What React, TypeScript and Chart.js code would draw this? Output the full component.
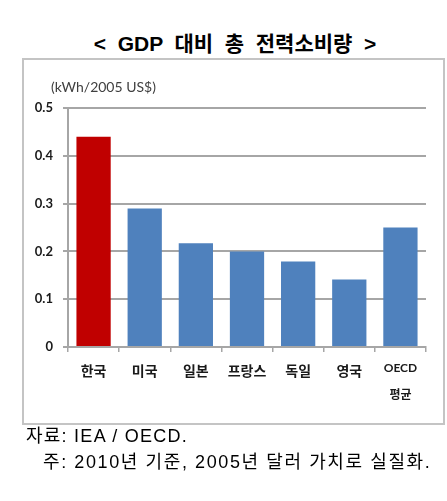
import React, { useEffect, useRef } from "react";
import { Chart, registerables } from "chart.js";

Chart.register(...registerables);

const categories: (string | string[])[] = ["한국", "미국", "일본", "프랑스", "독일", "영국", ["OECD", "평균"]];
const values: number[] = [0.44, 0.29, 0.217, 0.2, 0.179, 0.141, 0.25];
const barColors: string[] = ["#C00000", "#4F81BD", "#4F81BD", "#4F81BD", "#4F81BD", "#4F81BD", "#4F81BD"];
const yTicks: number[] = [0, 0.1, 0.2, 0.3, 0.4, 0.5];

const title = "<  GDP  대비  총  전력소비량  >";
const unitLabel = "(kWh/2005 US$)";
const source = "자료: IEA / OECD.";
const note = "주: 2010년 기준, 2005년 달러 가치로 실질화.";

const mixedFont = "'Liberation Sans', Arial, 'Noto Sans CJK KR', sans-serif";

export default function App() {
  const ref = useRef<HTMLCanvasElement | null>(null);

  useEffect(() => {
    if (!ref.current) return;
    const chart = new Chart(ref.current, {
      type: "bar",
      data: {
        labels: categories,
        datasets: [
          {
            data: values,
            backgroundColor: barColors,
            borderWidth: 0,
            barPercentage: 0.67,
            categoryPercentage: 1,
          },
        ],
      },
      options: {
        animation: false,
        responsive: false,
        maintainAspectRatio: false,
        layout: { padding: { left: 0, right: 21, top: 108, bottom: 0 } },
        plugins: { legend: { display: false }, tooltip: { enabled: false }, title: { display: false } },
        scales: {
          x: {
            afterFit: (s: any) => {
              s.height = 154;
            },
            grid: {
              offset: true,
              drawOnChartArea: false,
              drawTicks: true,
              tickLength: 5,
              color: "#a6a6a6",
              lineWidth: 1.5,
            },
            border: { display: true, color: "#a6a6a6", width: 2 },
            ticks: {
              padding: 3,
              color: "#1a1a1a",
              maxRotation: 0,
              autoSkip: false,
              font: (ctx: any) =>
                ctx.index === 6
                  ? { family: "Lato, 'Noto Sans CJK KR', sans-serif", size: 12, weight: "bold", lineHeight: "27px" }
                  : { family: "'Noto Sans CJK KR', sans-serif", size: 14, weight: "bold", lineHeight: "32px" },
            },
          },
          y: {
            min: 0,
            max: 0.5,
            afterFit: (s: any) => {
              s.width = 68;
            },
            afterBuildTicks: (s: any) => {
              s.ticks = yTicks.map((v) => ({ value: v }));
            },
            grid: {
              color: "#a6a6a6",
              lineWidth: 2,
              drawTicks: true,
              tickLength: 5,
            },
            border: { display: true, color: "#a6a6a6", width: 2 },
            ticks: {
              padding: 10,
              color: "#1a1a1a",
              font: { family: "Lato, sans-serif", size: 13, weight: "bold" },
              callback: (v: any) => (Number(v) === 0 ? "0" : Number(v).toFixed(1)),
            },
          },
        },
      },
    });
    return () => chart.destroy();
  }, []);

  return (
    <div
      style={{
        position: "absolute",
        left: 0,
        top: 0,
        width: 447,
        height: 501,
        background: "#fff",
        overflow: "hidden",
      }}
    >
      <div
        style={{
          position: "absolute",
          left: 0,
          top: 33,
          width: 470,
          textAlign: "center",
          fontFamily: mixedFont,
          fontWeight: "bold",
          fontSize: 21,
          lineHeight: "22px",
          color: "#000",
          whiteSpace: "pre",
        }}
      >
        {title}
      </div>
      <div
        style={{
          position: "absolute",
          left: 22,
          top: 58,
          width: 419,
          height: 363,
          border: "2px solid #c4c4c4",
          boxSizing: "content-box",
        }}
      />
      <canvas ref={ref} width={447} height={501} style={{ position: "absolute", left: 0, top: 0, width: 447, height: 501 }} />
      <div
        style={{
          position: "absolute",
          left: 51,
          top: 78,
          fontFamily: "Lato, sans-serif",
          fontSize: 14,
          lineHeight: "18px",
          color: "#404040",
          whiteSpace: "pre",
        }}
      >
        {unitLabel}
      </div>
      <div
        style={{
          position: "absolute",
          left: 26,
          top: 425,
          fontFamily: mixedFont,
          fontSize: 18,
          letterSpacing: 1.25,
          lineHeight: "22px",
          color: "#000",
          whiteSpace: "pre",
        }}
      >
        {source}
      </div>
      <div
        style={{
          position: "absolute",
          left: 43,
          top: 451,
          fontFamily: mixedFont,
          fontSize: 18,
          letterSpacing: 1.6,
          lineHeight: "22px",
          color: "#000",
          whiteSpace: "pre",
        }}
      >
        {note}
      </div>
    </div>
  );
}
